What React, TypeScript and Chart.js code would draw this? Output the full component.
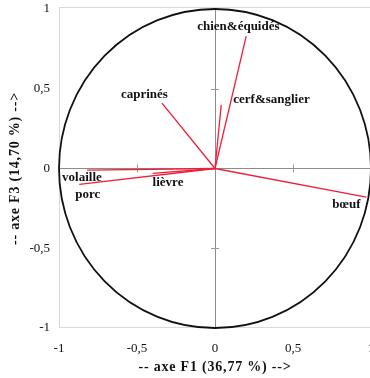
import React, { useEffect, useRef } from 'react';
import { Chart, registerables } from 'chart.js';

Chart.register(...registerables);

// ---- data ----
const variables = ['chien&équidés', 'cerf&sanglier', 'caprinés', 'volaille', 'porc', 'lièvre', 'bœuf'];
const axisF1 = [0.2, 0.04, -0.34, -0.82, -0.87, -0.4, 0.97];
const axisF3 = [0.83, 0.4, 0.41, -0.01, -0.1, -0.03, -0.18];
const tickValues = [-1, -0.5, 0, 0.5, 1];
const xTitle = '-- axe F1 (36,77 %) -->';
const yTitle = '-- axe F3 (14,70 %) -->';

// ---- label placement (pixel offsets from each vector's end) ----
const labelOffsets: [number, number][] = [
  [-49, -9],
  [12, -5],
  [-41, -8],
  [-25, 8],
  [-4, 10],
  [0, 9],
  [-34, 7],
];

const SERIF = "'Liberation Serif', 'Times New Roman', serif";
const RED = 'rgb(236, 32, 56)';
const fmt = (v: number) => String(v).replace('.', ',');

const circlePlugin = {
  id: 'corrCircle',
  beforeDraw(chart: any) {
    ['x', 'y'].forEach((id) => {
      const s = chart.scales[id];
      if (s && !s.__spaced) {
        const orig = s.drawTitle.bind(s);
        s.drawTitle = function () {
          const c = chart.ctx;
          c.save();
          c.letterSpacing = '0.8px';
          orig();
          c.restore();
        };
        s.__spaced = true;
      }
    });
  },
  beforeDatasetsDraw(chart: any) {
    const { ctx, chartArea, scales } = chart;
    const xs = scales.x;
    const ys = scales.y;
    ctx.save();
    // plot frame
    ctx.strokeStyle = '#d9d9d9';
    ctx.lineWidth = 1;
    ctx.strokeRect(chartArea.left + 0.5, chartArea.top - 1.5, chartArea.right - chartArea.left, chartArea.bottom - chartArea.top + 1);
    // small cross ticks on the zero lines
    const x0 = xs.getPixelForValue(0);
    const y0 = ys.getPixelForValue(0);
    ctx.strokeStyle = '#9a9a9a';
    tickValues.forEach((v) => {
      if (v === 0 || Math.abs(v) === 1) return;
      const px = Math.round(xs.getPixelForValue(v)) + 0.5;
      ctx.beginPath();
      ctx.moveTo(px, y0 - 4);
      ctx.lineTo(px, y0 + 4);
      ctx.stroke();
      const py = Math.round(ys.getPixelForValue(v)) + 0.5;
      ctx.beginPath();
      ctx.moveTo(x0 - 4, py);
      ctx.lineTo(x0 + 4, py);
      ctx.stroke();
    });
    // unit circle
    const cx = xs.getPixelForValue(0);
    const cy = ys.getPixelForValue(0);
    const rx = xs.getPixelForValue(1) - cx;
    const ry = cy - ys.getPixelForValue(1);
    ctx.beginPath();
    ctx.ellipse(cx, cy, rx, ry, 0, 0, Math.PI * 2);
    ctx.strokeStyle = '#111';
    ctx.lineWidth = 1.8;
    ctx.stroke();
    ctx.restore();
  },
  afterDatasetsDraw(chart: any) {
    const { ctx, scales } = chart;
    ctx.save();
    ctx.font = `bold 13px ${SERIF}`;
    ctx.fillStyle = '#111';
    ctx.textAlign = 'left';
    ctx.textBaseline = 'middle';
    variables.forEach((name, i) => {
      const px = scales.x.getPixelForValue(axisF1[i]);
      const py = scales.y.getPixelForValue(axisF3[i]);
      const [dx, dy] = labelOffsets[i];
      ctx.fillText(name, px + dx, py + dy);
    });
    ctx.restore();
  },
};

export default function App() {
  const ref = useRef<HTMLCanvasElement>(null);

  useEffect(() => {
    if (!ref.current) return;
    const gridColor = (c: any) => (c.tick && c.tick.value === 0 ? '#8c8c8c' : 'rgba(0,0,0,0)');
    const chart = new Chart(ref.current, {
      type: 'scatter',
      data: {
        datasets: variables.map((name, i) => ({
          label: name,
          data: [
            { x: 0, y: 0 },
            { x: axisF1[i], y: axisF3[i] },
          ],
          showLine: true,
          borderColor: RED,
          backgroundColor: RED,
          borderWidth: 1.3,
          pointRadius: 0,
        })),
      },
      options: {
        animation: false,
        responsive: false,
        devicePixelRatio: 1,
        layout: { padding: { top: 9, right: 5, bottom: 0, left: 0 } },
        plugins: { legend: { display: false }, tooltip: { enabled: false } },
        scales: {
          x: {
            type: 'linear',
            min: -1,
            max: 1,
            afterBuildTicks: (s: any) => {
              s.ticks = tickValues.map((v) => ({ value: v }));
            },
            afterFit: (s: any) => {
              s.height = 50;
              s.paddingLeft = 0;
              s.paddingRight = 0;
              s.paddingTop = 0;
              s.paddingBottom = 0;
            },
            grid: { color: gridColor, drawTicks: false, lineWidth: 1 },
            border: { display: false },
            ticks: {
              callback: (v: any) => fmt(Number(v)),
              font: { family: SERIF, size: 13 },
              color: '#111',
              padding: 13,
              maxRotation: 0,
              autoSkip: false,
            },
            title: {
              display: true,
              text: xTitle,
              font: { family: SERIF, size: 14, weight: 'bold' },
              color: '#111',
              padding: { top: 0, bottom: 2 },
            },
          },
          y: {
            type: 'linear',
            min: -1,
            max: 1,
            afterBuildTicks: (s: any) => {
              s.ticks = tickValues.map((v) => ({ value: v }));
            },
            afterFit: (s: any) => {
              s.width = 59;
              s.paddingLeft = 0;
              s.paddingRight = 0;
              s.paddingTop = 0;
              s.paddingBottom = 0;
            },
            grid: { color: gridColor, drawTicks: false, lineWidth: 1 },
            border: { display: false },
            ticks: {
              callback: (v: any) => fmt(Number(v)),
              font: { family: SERIF, size: 13 },
              color: '#111',
              padding: 9,
              autoSkip: false,
            },
            title: {
              display: true,
              text: yTitle,
              font: { family: SERIF, size: 14, weight: 'bold' },
              color: '#111',
              padding: { top: 7, bottom: 0 },
            },
          },
        },
      },
      plugins: [circlePlugin],
    } as any);
    return () => chart.destroy();
  }, []);

  return (
    <div style={{ position: 'absolute', left: 0, top: 0, width: 370, height: 378, overflow: 'hidden', background: '#fff' }}>
      <canvas ref={ref} width={376} height={378} style={{ display: 'block' }} />
    </div>
  );
}
